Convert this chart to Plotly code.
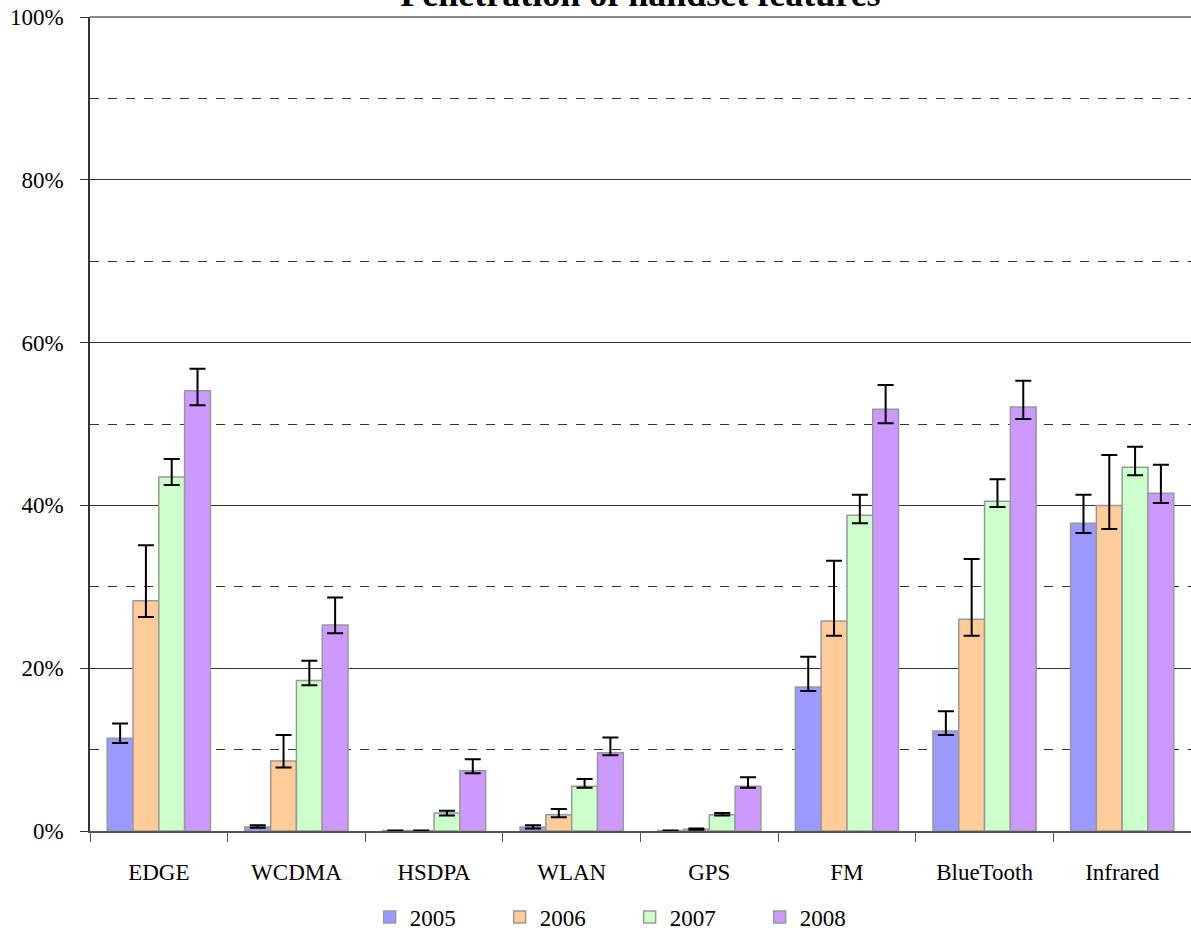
import plotly.graph_objects as go

categories = ["EDGE", "WCDMA", "HSDPA", "WLAN", "GPS", "FM", "BlueTooth", "Infrared"]
years = ["2005", "2006", "2007", "2008"]

v2005 = [11.4, 0.5, 0.05, 0.5, 0.05, 17.7, 12.3, 37.8]
v2006 = [28.3, 8.6, 0.05, 2.0, 0.2, 25.8, 26.0, 40.0]
v2007 = [43.5, 18.5, 2.2, 5.5, 2.0, 38.8, 40.5, 44.7]
v2008 = [54.1, 25.3, 7.4, 9.6, 5.5, 51.8, 52.1, 41.5]

hi2005 = [13.2, 0.7, 0.05, 0.7, 0.05, 21.4, 14.7, 41.3]
hi2006 = [35.1, 11.8, 0.05, 2.7, 0.3, 33.2, 33.4, 46.2]
hi2007 = [45.7, 20.9, 2.5, 6.4, 2.2, 41.3, 43.2, 47.2]
hi2008 = [56.8, 28.7, 8.8, 11.5, 6.6, 54.8, 55.3, 45.0]

lo2005 = [10.8, 0.4, 0.05, 0.3, 0.05, 17.2, 11.8, 36.6]
lo2006 = [26.3, 7.8, 0.05, 1.7, 0.15, 24.0, 24.0, 37.1]
lo2007 = [42.5, 17.9, 1.9, 5.3, 1.9, 37.8, 39.8, 43.7]
lo2008 = [52.3, 24.3, 7.1, 9.3, 5.3, 50.1, 50.6, 40.3]

values = [v2005, v2006, v2007, v2008]
highs = [hi2005, hi2006, hi2007, hi2008]
lows = [lo2005, lo2006, lo2007, lo2008]
colors = ["#9999FF", "#FFCC99", "#CCFFCC", "#CC99FF"]

FONT = "Liberation Serif, Times New Roman, serif"

fig = go.Figure()
for yr, vals, hi, lo, col in zip(years, values, highs, lows, colors):
    fig.add_trace(go.Bar(
        name=yr, x=categories, y=vals,
        marker=dict(color=col, line=dict(color="#999999", width=1.5)),
        error_y=dict(type="data", symmetric=False,
                     array=[h - v for h, v in zip(hi, vals)],
                     arrayminus=[v - l for v, l in zip(vals, lo)],
                     color="black", thickness=2, width=8),
    ))

fig.update_layout(
    width=1191, height=931,
    margin=dict(l=90, r=0, t=17, b=100, autoexpand=False),
    paper_bgcolor="white", plot_bgcolor="white",
    barmode="group", bargap=0.25, bargroupgap=0,
    font=dict(family=FONT, size=23, color="black"),
    title=dict(text="<b>Penetration of handset features</b>",
               x=0.5, xref="paper", y=1 - 6 / 931, yref="container", yanchor="bottom",
               pad=dict(b=0, t=0),
               font=dict(family=FONT, size=36, color="black")),
    legend=dict(orientation="h", x=0.254, xanchor="left",
                yref="container", y=14 / 931, yanchor="middle",
                font=dict(family=FONT, size=23), entrywidth=85, entrywidthmode="pixels",
                traceorder="normal"),
    showlegend=True,
)
fig.update_yaxes(range=[0, 100], dtick=20, ticksuffix="%",
                 showgrid=True, gridcolor="#333333", gridwidth=1,
                 showline=True, linecolor="#333333", linewidth=1.5,
                 ticks="outside", ticklen=8, tickcolor="#333333",
                 ticklabelstandoff=12,
                 zeroline=False,
                 minor=dict(tickvals=[10, 30, 50, 70, 90], showgrid=True,
                            gridcolor="#333333", griddash="dash", gridwidth=1, ticks=""))
fig.update_xaxes(showline=True, linecolor="#555555", linewidth=1.5,
                 ticks="outside", tickson="boundaries", ticklen=9, tickcolor="#555555",
                 ticklabelstandoff=20, showgrid=False)
fig.add_shape(type="line", xref="paper", yref="paper", x0=0, x1=1, y0=1, y1=1,
              line=dict(color="#888888", width=2))

fig.write_html("out.html", config={"displayModeBar": False},
               post_script="document.body.style.margin='0';")
